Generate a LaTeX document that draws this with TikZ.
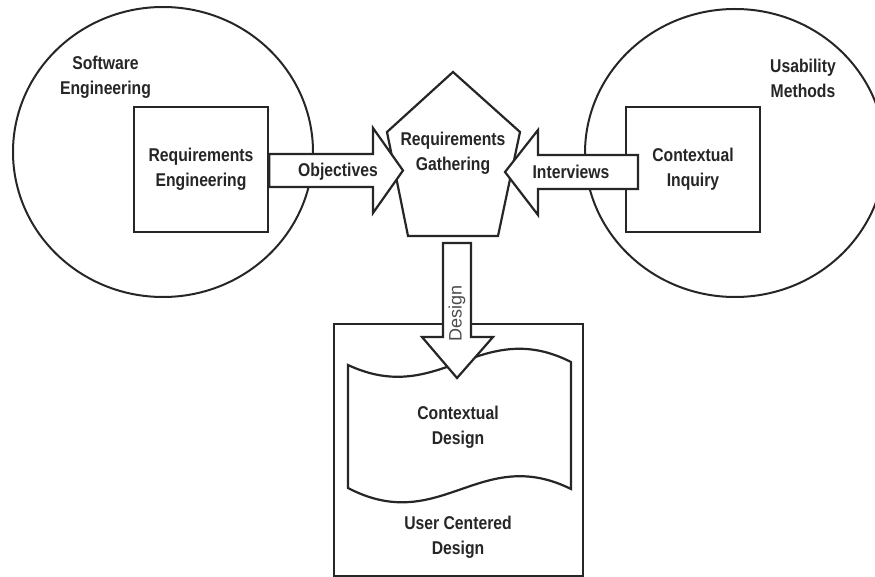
\documentclass[tikz,border=0pt]{standalone}
\usepackage{fontspec}
\setmainfont{Liberation Sans}[FakeStretch=0.85]
\newfontfamily\plainfont{Liberation Sans}
\usetikzlibrary{calc,positioning}

\begin{document}
\begin{tikzpicture}[x=1pt,y=-1pt,line join=miter,
    every node/.style={font=\bfseries\fontsize{18.5}{25}\selectfont, align=center, text=black!85}]
    \tikzstyle{field}=[draw=black!85, line width=2pt]
    \tikzstyle{block}=[draw=black!85, line width=2.6pt, fill=white]
    \tikzstyle{outline}=[draw=black!85, line width=2.2pt, fill=white]
    \tikzstyle{bigarrow}=[draw=black!85, line width=2.2pt, fill=white]

    \useasboundingbox (0,0) rectangle (875,577);

    % the two fields
    \draw[field] (163,152) ellipse [x radius=150pt, y radius=145pt];
    \draw[field] (735,153) ellipse [x radius=150pt, y radius=144pt];
    \node (softeng) at (105.5,77.5) {Software\\Engineering};
    \node (usab) at (803,78.5) {Usability\\Methods};

    \node[block, minimum width=134pt, minimum height=125pt] (reqeng) at (201,169.5) {Requirements\\Engineering};
    \node[block, minimum width=134pt, minimum height=125pt] (ctxinq) at (693,169.5) {Contextual\\Inquiry};

    % gathering
    \draw[outline] (453,72) -- (520,132) -- (498,236) -- (408,236) -- (387,132) -- cycle;
    \node (reqgath) at (453,153) {Requirements\\Gathering};

    % user centered design
    \node[block, minimum width=249pt, minimum height=252pt] (ucd) at (458.5,450) {};
    \node (ucdlbl) at (458,537.5) {User Centered\\Design};
    \draw[outline] (348,365) .. controls (440,408) and (480,316) .. (571,362)
      -- (571,489) .. controls (480,444) and (440,536) .. (348,488) -- cycle;
    \node (ctxdes) at (458,427.5) {Contextual\\Design};

    % arrows
    \coordinate (objtip) at (403,170.5);
    \coordinate (inttip) at (505,172);
    \coordinate (destip) at (457,378);
    \draw[bigarrow] (reqeng.east |- 0,154) -- (373,154) -- (373,128) -- (objtip)
      -- (373,213) -- (373,187) -- (reqeng.east |- 0,187) -- cycle;
    \draw[bigarrow] (638,155) -- (538,155) -- (538,130) -- (inttip)
      -- (538,215) -- (538,189) -- (638,189) -- cycle;
    \draw[bigarrow] (443,243) -- (443,337) -- (422,337) -- (destip)
      -- (493,337) -- (471,337) -- (471,243) -- cycle;
    \node (objlbl) at (338,172) {Objectives};
    \node (intlbl) at (571,172) {Interviews};
    \node[rotate=90, font=\plainfont\fontsize{18}{20}\selectfont, text=black!70] (deslbl) at (457,313) {Design};
\end{tikzpicture}
\end{document}
